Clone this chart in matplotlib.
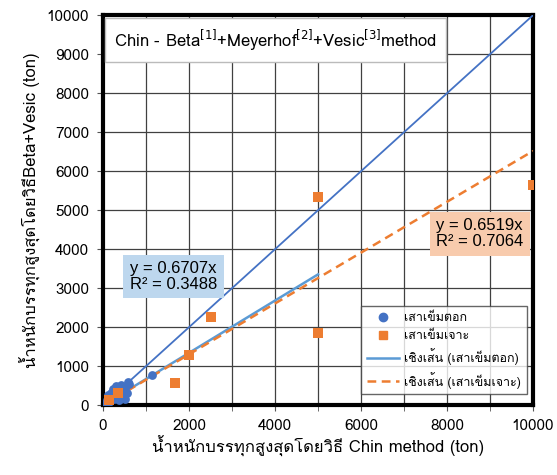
import matplotlib
matplotlib.use("Agg")
import matplotlib.pyplot as plt
from matplotlib import font_manager
from matplotlib.ft2font import FT2Font
from matplotlib.lines import Line2D
import numpy as np

# --- data -------------------------------------------------------------
driven_x = [60, 100, 120, 150, 180, 200, 220, 250, 260, 300, 320, 350,
            380, 400, 420, 450, 480, 500, 520, 550, 580, 600, 1130]
driven_y = [50, 120, 250, 80, 300, 180, 420, 150, 350, 480, 220, 400,
            130, 300, 520, 250, 380, 150, 450, 300, 600, 550, 770]

bored_x = [150, 350, 1680, 2000, 2500, 5000, 5000, 10000]
bored_y = [120, 300, 560, 1280, 2250, 5350, 1850, 5650]

driven_slope, driven_r2 = 0.6707, 0.3488
bored_slope, bored_r2 = 0.6519, 0.7064
driven_fit_x = [0, 5000]
bored_fit_x = [0, 10000]
equal_line = [0, 10000]

x_label = "น้ำหนักบรรทุกสูงสุดโดยวิธี Chin method (ton)"
y_label = "น้ำหนักบรรทุกสูงสุดโดยวิธีBeta+Vesic (ton)"
legend_labels = ["เสาเข็มตอก", "เสาเข็มเจาะ",
                 "เชิงเส้น (เสาเข็มตอก)", "เชิงเส้น (เสาเข็มเจาะ)"]

# --- fonts: pick an installed family that carries Thai glyphs ----------
def thai_family():
    for fe in font_manager.fontManager.ttflist:
        try:
            f = FT2Font(fe.fname)
            if f.get_char_index(ord("ก")) and f.get_char_index(ord("A")):
                return fe.name
        except Exception:
            continue
    return None

fam = thai_family()
families = ([fam] if fam else []) + ["DejaVu Sans"]
plt.rcParams["font.family"] = families

blue_dark = "#4472C4"
blue_light = "#5B9BD5"
orange = "#ED7D31"

fig = plt.figure(figsize=(5.57, 4.75), dpi=100)
ax = fig.add_axes([0.185, 0.147, 0.772, 0.821])

# 1:1 reference line
ax.plot(equal_line, equal_line, color=blue_dark, lw=1.3, zorder=3)

# fitted lines through origin
dx = np.array(driven_fit_x)
bx = np.array(bored_fit_x)
ax.plot(dx, driven_slope * dx, color=blue_light, lw=1.8, zorder=3)
ax.plot(bx, bored_slope * bx, color=orange, lw=1.8, ls=(0, (3.5, 2.2)), zorder=3)

ax.scatter(driven_x, driven_y, s=40, color=blue_dark, marker="o", zorder=4, linewidths=0)
ax.scatter(bored_x, bored_y, s=45, color=orange, marker="s", zorder=5, linewidths=0)

ax.set_xlim(0, 10000)
ax.set_ylim(0, 10000)
ax.set_xticks(np.arange(0, 10001, 2000))
ax.set_xticks(np.arange(0, 10001, 1000), minor=True)
ax.set_yticks(np.arange(0, 10001, 1000))
ax.grid(True, which="both", color="#404040", lw=0.9, zorder=0)
ax.tick_params(axis="both", which="both", direction="out", length=4,
               color="#555555", labelsize=11, pad=6)
for sp in ax.spines.values():
    sp.set_linewidth(3)
    sp.set_color("black")
ax.set_axisbelow(True)

ax.set_xlabel(x_label, fontsize=12, labelpad=2)
ax.set_ylabel(y_label, fontsize=12, labelpad=4)

# title box
ax.text(0.025, 0.936, "Chin - Beta$^{[1]}$+Meyerhof$^{[2]}$+Vesic$^{[3]}$method",
        transform=ax.transAxes, ha="left", va="center", fontsize=12,
        bbox=dict(boxstyle="square,pad=0.55", fc="white", ec="#BBBBBB", lw=1),
        zorder=6)

# regression equation boxes
eq_font = ["Liberation Sans", "DejaVu Sans"]
ax.text(0.062, 0.33, f"y = {driven_slope:.4f}x\nR² = {driven_r2:.4f}",
        transform=ax.transAxes, ha="left", va="center", fontsize=12,
        family=eq_font, linespacing=1.05,
        bbox=dict(boxstyle="square,pad=0.4", fc="#BDD7EE", ec="none"), zorder=6)
ax.text(0.775, 0.44, f"y = {bored_slope:.4f}x\nR² = {bored_r2:.4f}",
        transform=ax.transAxes, ha="left", va="center", fontsize=12,
        family=eq_font, linespacing=1.05,
        bbox=dict(boxstyle="square,pad=0.4", fc="#F8CBAD", ec="none"), zorder=6)

handles = [
    Line2D([], [], ls="none", marker="o", ms=6, color=blue_dark),
    Line2D([], [], ls="none", marker="s", ms=6, color=orange),
    Line2D([], [], color=blue_light, lw=1.8),
    Line2D([], [], color=orange, lw=1.8, ls=(0, (3.5, 2.2))),
]
leg = ax.legend(handles, legend_labels, loc="lower right", fontsize=9,
                frameon=True, fancybox=False, edgecolor="#404040",
                borderaxespad=0.5, handlelength=2.6, handletextpad=0.4,
                labelspacing=0.5, borderpad=0.45,
                bbox_to_anchor=(1.0, 0.012))
leg.get_frame().set_linewidth(1.0)
leg.set_zorder(7)

fig.savefig("out.png", dpi=100)
